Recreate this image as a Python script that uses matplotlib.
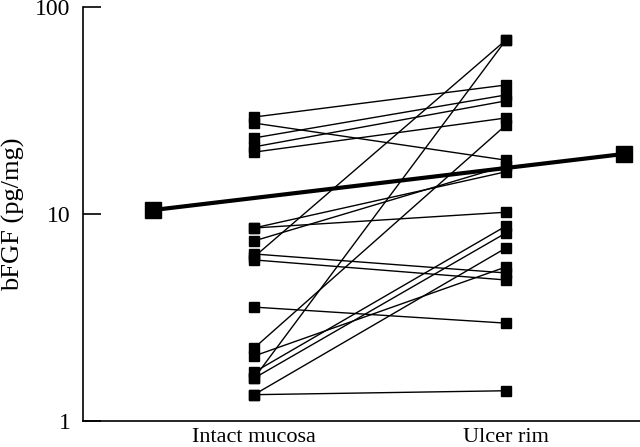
import matplotlib
matplotlib.use("Agg")
import matplotlib.pyplot as plt
from matplotlib.ticker import FixedLocator, NullLocator

categories = ["Intact mucosa", "Ulcer rim"]
intact = [29.4, 27.5, 23.3, 21.1, 19.9, 8.56, 8.56, 7.41, 6.41, 6.0, 6.2,
          3.55, 2.25, 2.06, 1.72, 1.61, 1.61, 1.34, 1.34]
ulcer = [42.0, 18.2, 37.6, 35.2, 29.1, 10.2, 16.0, 17.1, 5.19, 4.8, 69.3,
         2.97, 26.9, 5.55, 8.75, 69.3, 8.1, 6.85, 1.40]
summary = [10.45, 19.5]
yticks = [1, 10, 100]
yticklabels = ["1", "10", "100"]

plt.rcParams['font.family'] = ['Liberation Serif', 'DejaVu Serif']

fig = plt.figure(figsize=(6.4, 4.47), dpi=100)
ax = fig.add_axes([83/640, 1-421/447, 1-83/640, (421-7)/447])

x_cat = [1, 2]
for a, b in zip(intact, ulcer):
    ax.plot(x_cat, [a, b], color='black', lw=1.0, marker='s', ms=7.2,
            mfc='black', mec='black', zorder=2)

ax.plot([0.599, 2.468], summary, color='black', lw=3.0, marker='s', ms=11.5,
        mfc='black', mec='black', zorder=3)

ax.set_yscale('log')
ax.set_ylim(1, 100)
ax.set_xlim(0.321, 2.532)
ax.yaxis.set_major_locator(FixedLocator(yticks))
ax.set_yticklabels(yticklabels)
ax.yaxis.set_minor_locator(NullLocator())
ax.set_xticks(x_cat)
ax.set_xticklabels(categories)

ax.spines['top'].set_visible(False)
ax.spines['right'].set_visible(False)
for s in ['left', 'bottom']:
    ax.spines[s].set_linewidth(1.2)

ax.tick_params(axis='y', direction='in', length=13, width=1.2, pad=9,
               labelsize=17)
ax.tick_params(axis='x', length=0, pad=5, labelsize=16)
ax.set_ylabel("bFGF (pg/mg)", fontsize=19)
ax.yaxis.set_label_coords(-0.104, 0.5)

fig.savefig("out.png", dpi=100)
